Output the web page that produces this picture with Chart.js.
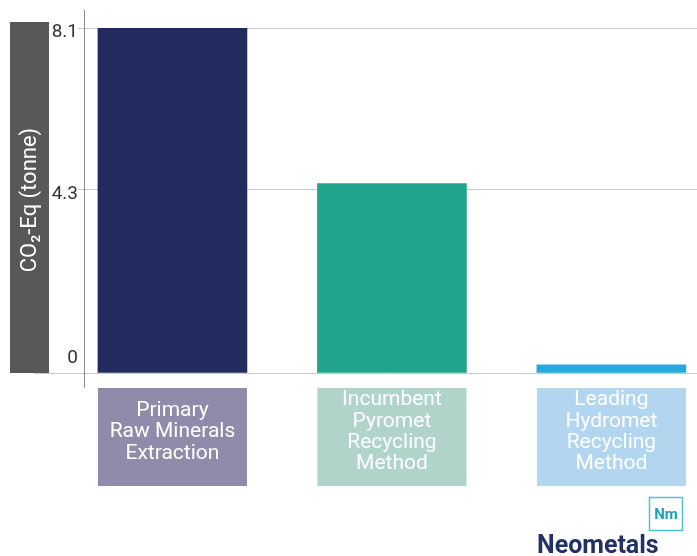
<!DOCTYPE html>
<html>
<head>
<meta charset="utf-8">
<script src="https://cdn.jsdelivr.net/npm/chart.js@4"></script>
<style>
  html, body { margin: 0; background: #fff; }
  #wrap { width: 697px; height: 556px; position: relative; }
</style>
</head>
<body>
<div id="wrap"><canvas id="chart"></canvas></div>
<script>
// data
const categories = [
  ['Primary', 'Raw Minerals', 'Extraction'],
  ['Incumbent', 'Pyromet', 'Recycling', 'Method'],
  ['Leading', 'Hydromet', 'Recycling', 'Method']
];
const values = [8.1, 4.45, 0.19];
const tickValues = [0, 4.3, 8.1];
const tickLabels = ['0', '4.3', '8.1'];
const yTitle = 'CO\u2082-Eq (tonne)';

const barColors = ['#222b5e', '#22a38b', '#24aae1'];
const labelColors = ['#8f8bab', '#b0d3ca', '#b3d6f0'];
const BAR_W = 149;

const decor = {
  id: 'decor',
  beforeDraw(chart) {
    const { ctx, chartArea: a } = chart;
    ctx.save();
    // grey title band
    ctx.fillStyle = '#58585a';
    ctx.fillRect(10, 22, 39, a.bottom - 22);
    ctx.translate(30, 200);
    ctx.rotate(-Math.PI / 2);
    ctx.fillStyle = '#fff';
    ctx.font = '22px Roboto';
    ctx.textAlign = 'center';
    ctx.textBaseline = 'middle';
    ctx.fillText(yTitle, 0, 0);
    ctx.restore();
  },
  afterDraw(chart) {
    const { ctx, chartArea: a, scales: { x, y } } = chart;
    ctx.save();
    // baseline extension + axis line
    ctx.strokeStyle = '#c8c8c8';
    ctx.lineWidth = 1;
    ctx.beginPath();
    ctx.moveTo(34, Math.round(a.bottom) + 0.5);
    ctx.lineTo(a.left, Math.round(a.bottom) + 0.5);
    ctx.stroke();
    ctx.strokeStyle = '#8a8a8a';
    ctx.beginPath();
    ctx.moveTo(Math.round(a.left) + 0.5, 10);
    ctx.lineTo(Math.round(a.left) + 0.5, a.bottom + 15);
    ctx.stroke();

    // tick labels
    ctx.fillStyle = '#333';
    ctx.font = '19px Roboto';
    ctx.textAlign = 'right';
    ctx.textBaseline = 'middle';
    tickValues.forEach((v, i) => {
      const py = y.getPixelForValue(v);
      ctx.fillText(tickLabels[i], 78, v === 0 ? py - 15 : py + 4);
    });

    // category label boxes
    categories.forEach((lines, i) => {
      const cx = x.getPixelForValue(i);
      const top = a.bottom + 15;
      ctx.fillStyle = labelColors[i];
      ctx.fillRect(cx - BAR_W / 2, top, BAR_W, 98);
      ctx.fillStyle = '#fff';
      ctx.font = '21px Roboto';
      ctx.textAlign = 'center';
      const lh = 21.3;
      const c = top + 44;
      lines.forEach((t, j) => {
        ctx.fillText(t, cx, c + (j - (lines.length - 1) / 2) * lh);
      });
    });

    // logo
    ctx.strokeStyle = '#4fc3d0';
    ctx.lineWidth = 1.5;
    ctx.strokeRect(649.5, 497.5, 33, 33);
    ctx.fillStyle = '#1aa3b5';
    ctx.font = 'bold 15px Roboto';
    ctx.textAlign = 'center';
    ctx.fillText('Nm', 666, 515);
    ctx.fillStyle = '#223066';
    ctx.font = 'bold 25px Roboto';
    ctx.textAlign = 'left';
    ctx.textBaseline = 'alphabetic';
    ctx.fillText('Neometals', 537, 553);
    ctx.restore();
  }
};

new Chart(document.getElementById('chart'), {
  type: 'bar',
  data: {
    datasets: [{
      data: values.map((v, i) => ({ x: i, y: v })),
      backgroundColor: barColors,
      barThickness: BAR_W,
      borderWidth: 0
    }]
  },
  options: {
    responsive: true,
    maintainAspectRatio: false,
    animation: false,
    layout: { padding: { top: 28, bottom: 183, left: 0, right: 0 } },
    plugins: { legend: { display: false }, tooltip: { enabled: false } },
    scales: {
      x: {
        type: 'linear', min: -0.403, max: 2.39,
        offset: false,
        display: false
      },
      y: {
        min: 0, max: 8.1,
        afterBuildTicks: s => { s.ticks = tickValues.map(v => ({ value: v })); },
        afterFit: s => { s.width = 84; },
        ticks: { display: false },
        border: { display: false },
        grid: { color: '#c8c8c8', drawTicks: true, tickLength: 6 }
      }
    }
  },
  plugins: [decor]
});
</script>
</body>
</html>
